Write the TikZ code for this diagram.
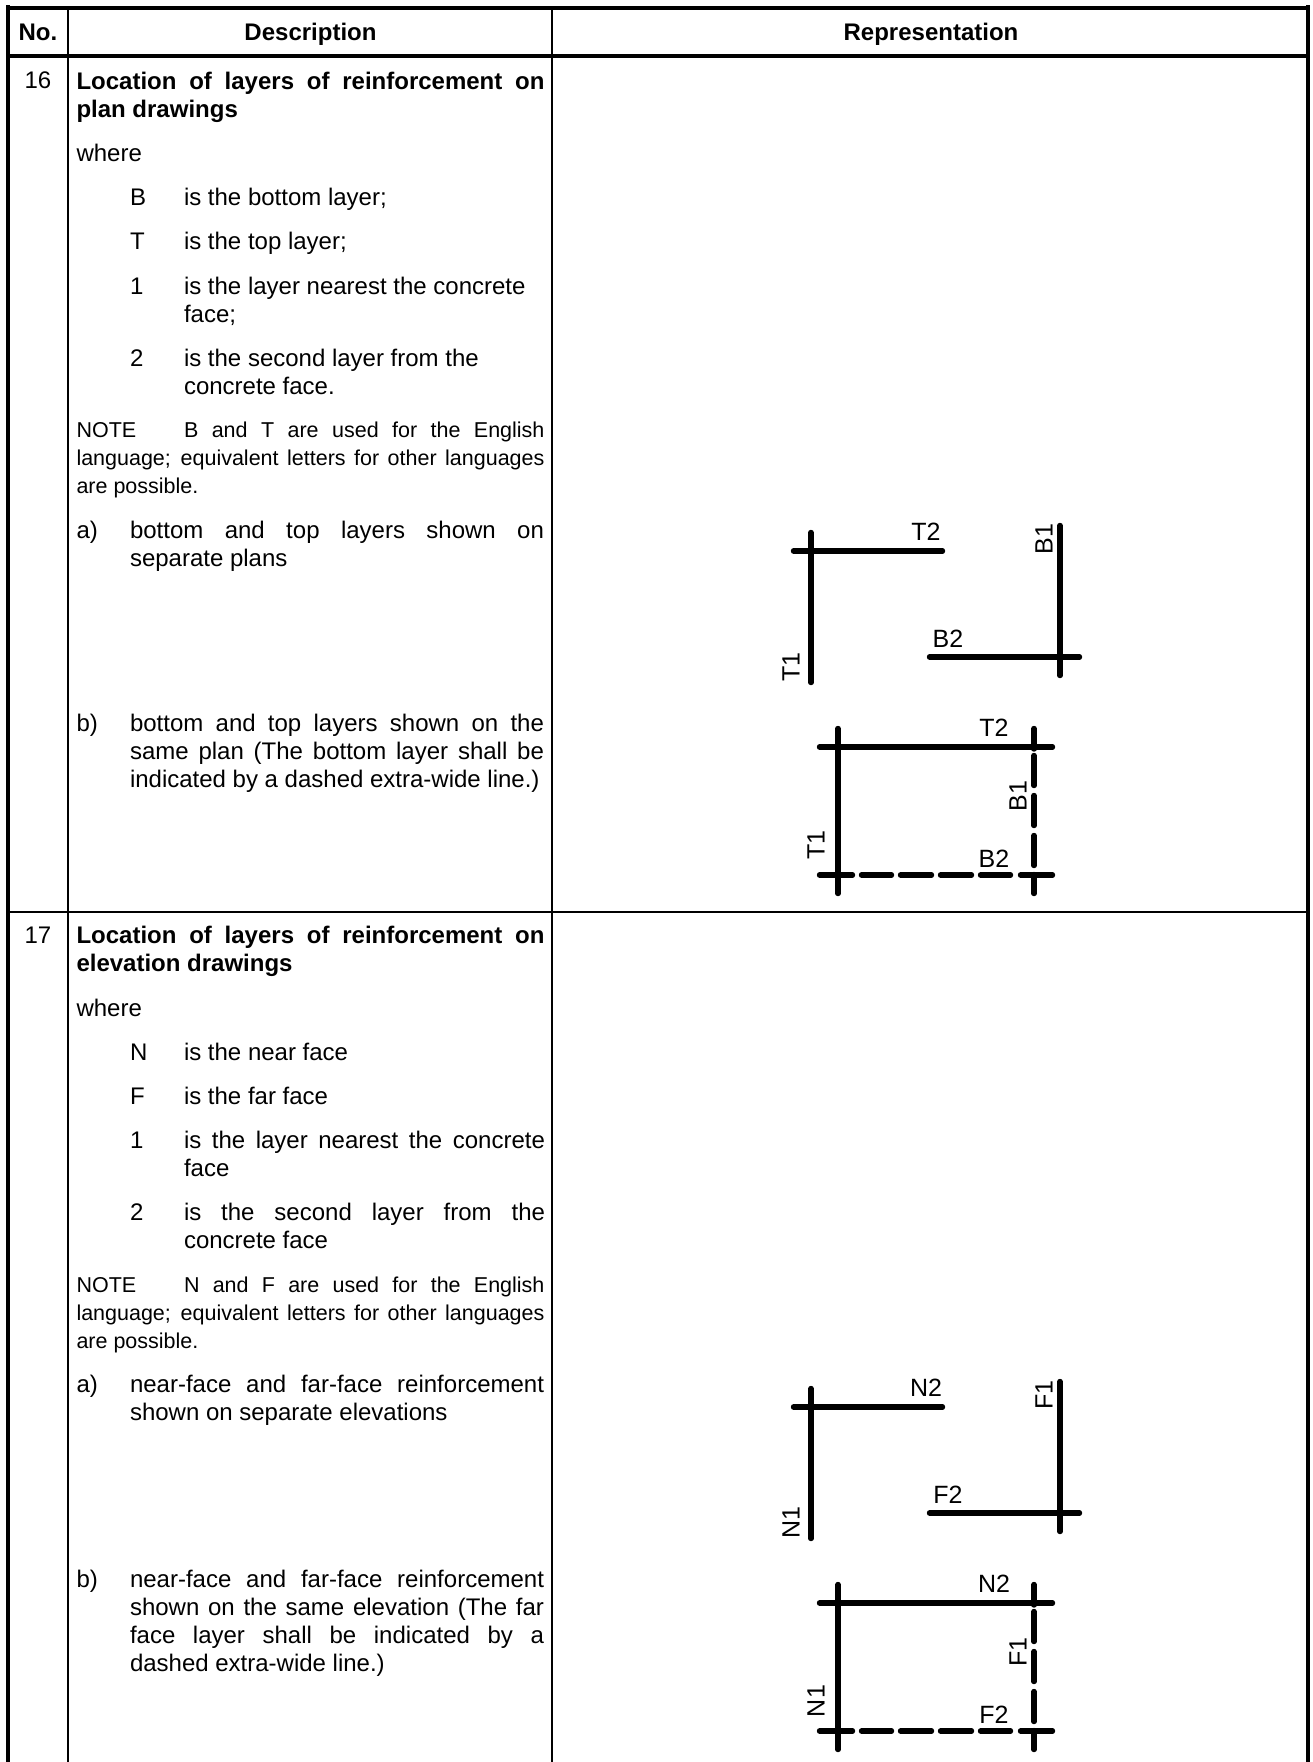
\documentclass[tikz,border=0pt]{standalone}
\usepackage{fontspec}
\setmainfont{Liberation Sans}
\newcommand{\jl}[1]{\makebox[\hsize][s]{#1}}
\newcommand{\fs}{\spaceskip=0pt\relax\xspaceskip=0pt\relax\rule{0pt}{20pt}}
\tikzset{
  x=1pt,y=-1pt,
  body/.style={anchor=north west,inner sep=0pt,outer sep=0pt,align=left,font=\fontsize{24}{28}\selectfont},
  note/.style={anchor=north west,inner sep=0pt,outer sep=0pt,align=left,font=\fontsize{21.5}{28}\selectfont},
  head/.style={inner sep=0pt,font=\fontsize{24}{28}\selectfont\bfseries},
  lab/.style={inner sep=0pt,font=\fontsize{25}{28}\selectfont},
  frame/.style={line width=4pt,black},
  rule/.style={line width=2.2pt,black},
  bar/.style={line width=5.4pt,line cap=round,black},
}
\newcommand{\plansA}[5]{%
 \begin{scope}[yshift=#1]
  \coordinate (#5a1) at (811,532.5); \coordinate (#5a2) at (811,682.5);
  \coordinate (#5b1) at (793.5,551); \coordinate (#5b2) at (942.5,551);
  \coordinate (#5c1) at (1060,525.5); \coordinate (#5c2) at (1060,675.5);
  \coordinate (#5d1) at (929.5,657); \coordinate (#5d2) at (1079.5,657);
  \draw[bar] (#5a1) -- (#5a2);
  \draw[bar] (#5b1) -- (#5b2);
  \draw[bar] (#5c1) -- (#5c2);
  \draw[bar] (#5d1) -- (#5d2);
  \node[lab] (#5la) at (926,532) {#3};
  \node[lab] (#5lb) at (948,639) {#4};
  \node[lab,rotate=90] (#5lc) at (791,667) {#2};
 \end{scope}}
\newcommand{\plansB}[5]{%
 \begin{scope}[yshift=#1]
  \coordinate (#5e1) at (838,728.5); \coordinate (#5e2) at (838,893.5);
  \coordinate (#5f1) at (819.5,747); \coordinate (#5f2) at (1052.5,747);
  \coordinate (#5g1) at (1034,728.5); \coordinate (#5g2) at (1034,749);
  \draw[bar] (#5e1) -- (#5e2);
  \draw[bar] (#5f1) -- (#5f2);
  \draw[bar] (#5g1) -- (#5g2);
  \foreach \a/\b [count=\i] in {755.5/785.5,795.5/825.5,835.5/865.5,874.5/893.5}{
    \coordinate (#5v\i a) at (1034,\a); \coordinate (#5v\i b) at (1034,\b);
    \draw[bar] (#5v\i a) -- (#5v\i b);}
  \foreach \a/\b [count=\i] in {819.5/852.5,861.5/891.5,900.5/931.5,940.5/971.5,980.5/1010.5,1020.5/1052.5}{
    \coordinate (#5h\i a) at (\a,875); \coordinate (#5h\i b) at (\b,875);
    \draw[bar] (#5h\i a) -- (#5h\i b);}
  \node[lab] (#5ma) at (994,728) {#3};
  \node[lab] (#5mb) at (994,859) {#4};
  \node[lab,rotate=90] (#5mc) at (816,845) {#2};
 \end{scope}}
\begin{document}
\begin{tikzpicture}
\useasboundingbox (0,0) rectangle (1313,1762);
\fill[white] (0,0) rectangle (1313,1762);
% table
\coordinate (tl) at (8,5); \coordinate (tr) at (1308,5);
\coordinate (bl) at (8,1762); \coordinate (br) at (1308,1762);
\coordinate (o1) at (8,8); \coordinate (o2) at (1308,8);
\coordinate (h1) at (8,56); \coordinate (h2) at (1308,56);
\coordinate (s1) at (8,912); \coordinate (s2) at (1308,912);
\coordinate (c1t) at (68,8); \coordinate (c1b) at (68,1762);
\coordinate (c2t) at (552,8); \coordinate (c2b) at (552,1762);
\draw[rule] (c1t) -- (c1b);
\draw[rule] (c2t) -- (c2b);
\draw[rule] (s1) -- (s2);
\draw[frame] (h1) -- (h2);
\draw[frame] (o1) -- (o2);
\draw[frame] (tl) -- (bl);
\draw[frame] (tr) -- (br);
% header
\node[head,anchor=base] (hno) at (38,40) {No.};
\node[head,anchor=base] (hde) at (310.5,40) {Description};
\node[head,anchor=base] (hre) at (931,40) {Representation};
% section 16
\node[body,anchor=base] (n16) at (38,88.5) {16};
\node[body,text width=468pt] (t1) at (76.5,69) {\bfseries\fs\jl{Location of layers of reinforcement on}\\plan drawings};
\node[body] (t2) at (76.5,141) {\fs where};
\node[body] (l1) at (130,185) {\fs B};
\node[body] (d1) at (184,185) {\fs is the bottom layer;};
\node[body] (l2) at (130,229) {\fs T};
\node[body] (d2) at (184,229) {\fs is the top layer;};
\node[body] (l3) at (130,274) {\fs 1};
\node[body] (d3) at (184,274) {\fs is the layer nearest the concrete\\face;};
\node[body] (l4) at (130,346) {\fs 2};
\node[body] (d4) at (184,346) {\fs is the second layer from the\\concrete face.};
\node[note,text width=468pt] (t3) at (76.5,417.5) {\fs\jl{\makebox[107.5pt][l]{NOTE}B and T are used for the English}\\\jl{language; equivalent letters for other languages}\\are possible.};
\node[body] (l5) at (76.5,518) {\fs a)};
\node[body,text width=414pt] (d5) at (130,518) {\fs\jl{bottom and top layers shown on}\\separate plans};
\node[body] (l6) at (76.5,711) {\fs b)};
\node[body,text width=414pt] (d6) at (130,711) {\fs\jl{bottom and top layers shown on the}\\\jl{same plan (The bottom layer shall be}\\indicated by a dashed extra-wide line.)};
\plansA{0}{T1}{T2}{B2}{p}
\node[lab,rotate=90] (pB1) at (1044,539) {B1};
\plansB{0}{T1}{T2}{B2}{q}
\node[lab,rotate=90] (qB1) at (1018,796) {B1};
% section 17
\node[body,anchor=base] (n17) at (38,943.5) {17};
\node[body,text width=468pt] (u1) at (76.5,923) {\bfseries\fs\jl{Location of layers of reinforcement on}\\elevation drawings};
\node[body] (u2) at (76.5,996) {\fs where};
\node[body] (m1) at (130,1040) {\fs N};
\node[body] (e1) at (184,1040) {\fs is the near face};
\node[body] (m2) at (130,1084) {\fs F};
\node[body] (e2) at (184,1084) {\fs is the far face};
\node[body] (m3) at (130,1128) {\fs 1};
\node[body,text width=361pt] (e3) at (184,1128) {\fs\jl{is the layer nearest the concrete}\\face};
\node[body] (m4) at (130,1200.5) {\fs 2};
\node[body,text width=361pt] (e4) at (184,1200.5) {\fs\jl{is the second layer from the}\\concrete face};
\node[note,text width=468pt] (u3) at (76.5,1272) {\fs\jl{\makebox[107.5pt][l]{NOTE}N and F are used for the English}\\\jl{language; equivalent letters for other languages}\\are possible.};
\node[body] (m5) at (76.5,1372) {\fs a)};
\node[body,text width=414pt] (e5) at (130,1372) {\fs\jl{near-face and far-face reinforcement}\\shown on separate elevations};
\node[body] (m6) at (76.5,1567.5) {\fs b)};
\node[body,text width=414pt] (e6) at (130,1567.5) {\fs\jl{near-face and far-face reinforcement}\\\jl{shown on the same elevation (The far}\\\jl{face layer shall be indicated by a}\\dashed extra-wide line.)};
\plansA{-856pt}{N1}{N2}{F2}{r}
\node[lab,rotate=90] (rF1) at (1044,1395) {F1};
\plansB{-856pt}{N1}{N2}{F2}{s}
\node[lab,rotate=90] (sF1) at (1018,1652) {F1};
\end{tikzpicture}
\end{document}
